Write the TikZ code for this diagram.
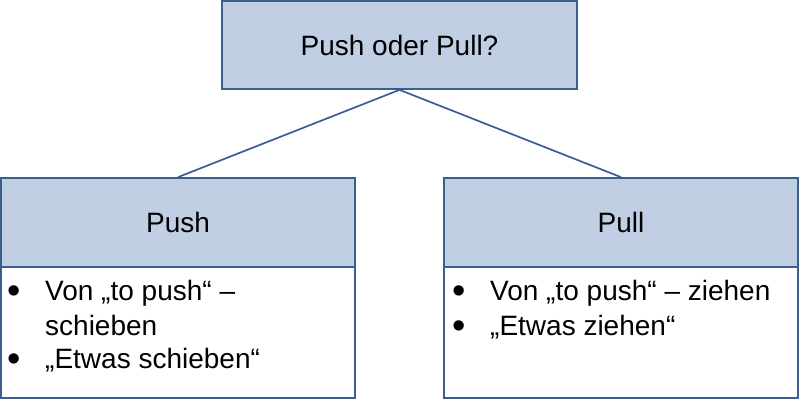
\documentclass[tikz,border=0pt]{standalone}
\usepackage{fontspec}
\setmainfont{Liberation Sans}
\definecolor{boxfill}{HTML}{C0CFE3}
\definecolor{boxline}{HTML}{3A5F8E}
\begin{document}
\begin{tikzpicture}[x=1pt,y=-1pt,
  hdr/.style={draw=boxline,line width=1.7pt,fill=boxfill,inner sep=0pt,font=\fontsize{28}{34}\selectfont},
  bodybox/.style={draw=boxline,line width=1.7pt,fill=white,inner sep=0pt},
  txt/.style={anchor=base west,inner sep=0pt,font=\fontsize{28}{34}\selectfont},
  bul/.style={anchor=base west,inner sep=0pt,font=\fontsize{38}{38}\selectfont},
  conn/.style={draw=boxline,line width=1.7pt}]
\useasboundingbox (0,0) rectangle (800,400);
\node[hdr,minimum width=355pt,minimum height=88pt] (top) at (399.5,45) {Push oder Pull?};
\node[bodybox,minimum width=354pt,minimum height=131pt] (lbody) at (178,332.5) {};
\node[hdr,minimum width=354pt,minimum height=89pt] (lhead) at (178,222.5) {Push};
\node[bodybox,minimum width=354pt,minimum height=131pt] (rbody) at (621,332.5) {};
\node[hdr,minimum width=354pt,minimum height=89pt] (rhead) at (621,222.5) {Pull};
\draw[conn] (top.south) -- (lhead.north);
\draw[conn] (top.south) -- (rhead.north);
% left bullets
\node[bul] (lb1) at (7,303) {•};
\node[txt] (lt1) at (45,300) {Von „to push“ –};
\node[txt] (lt1b) at (45,335) {schieben};
\node[bul] (lb2) at (7,371) {•};
\node[txt] (lt2) at (45,368) {„Etwas schieben“};
% right bullets
\node[bul] (rb1) at (452,303) {•};
\node[txt] (rt1) at (490,300) {Von „to push“ – ziehen};
\node[bul] (rb2) at (452,338) {•};
\node[txt] (rt2) at (490,335) {„Etwas ziehen“};
\end{tikzpicture}
\end{document}
